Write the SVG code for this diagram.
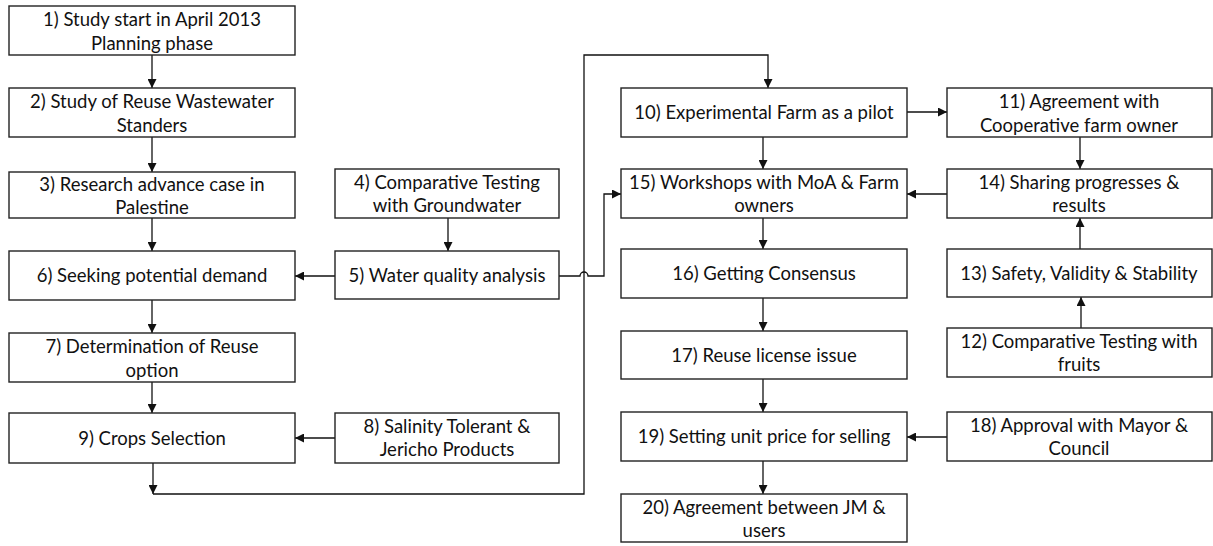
<svg xmlns="http://www.w3.org/2000/svg" width="1213" height="546" viewBox="0 0 1213 546">
<defs>
<style>
.box{fill:#fff;stroke:#222;stroke-width:1.4}
.lbl{font-family:Lato,"Liberation Sans",sans-serif;font-size:18.5px;fill:#111;text-anchor:middle}
.c{fill:none;stroke:#111;stroke-width:1.3}
</style>
<marker id="ah" viewBox="0 0 10 10" refX="10" refY="5" markerWidth="9" markerHeight="9" markerUnits="userSpaceOnUse" orient="auto">
<path d="M0,0 L10,5 L0,10 z" fill="#111"/>
</marker>
</defs>
<rect width="1213" height="546" fill="#fff"/>
<g id="connectors">
<path class="c" d="M152,55 V88" marker-end="url(#ah)"/>
<path class="c" d="M152,137 V172" marker-end="url(#ah)"/>
<path class="c" d="M152,218 V251" marker-end="url(#ah)"/>
<path class="c" d="M152,300 V333" marker-end="url(#ah)"/>
<path class="c" d="M152,382 V413" marker-end="url(#ah)"/>
<path class="c" d="M153,463 V494" marker-end="url(#ah)"/>
<path class="c" d="M153,494 H584 V55 H768 V88" marker-end="url(#ah)"/>
<path class="c" d="M448,218 V251" marker-end="url(#ah)"/>
<path class="c" d="M335,276 H295" marker-end="url(#ah)"/>
<path class="c" d="M335,438 H295" marker-end="url(#ah)"/>
<path class="c" d="M559,276 H580 A4,4 0 0 1 588,276 H604 V194 H621" marker-end="url(#ah)"/>
<path class="c" d="M763,137 V169" marker-end="url(#ah)"/>
<path class="c" d="M907,112 H947" marker-end="url(#ah)"/>
<path class="c" d="M1080,137 V169" marker-end="url(#ah)"/>
<path class="c" d="M947,194 H907" marker-end="url(#ah)"/>
<path class="c" d="M1080,249 V218" marker-end="url(#ah)"/>
<path class="c" d="M1081,328 V297" marker-end="url(#ah)"/>
<path class="c" d="M763,218 V249" marker-end="url(#ah)"/>
<path class="c" d="M763,298 V331" marker-end="url(#ah)"/>
<path class="c" d="M763,379 V412" marker-end="url(#ah)"/>
<path class="c" d="M763,461 V494" marker-end="url(#ah)"/>
<path class="c" d="M947,437 H907" marker-end="url(#ah)"/>
</g>
<g id="n1"><rect class="box" x="9" y="6" width="286" height="49"/><text class="lbl" x="152" y="26">1) Study start in April 2013</text><text class="lbl" x="152" y="50">Planning phase</text></g>
<g id="n2"><rect class="box" x="9" y="88" width="286" height="49"/><text class="lbl" x="152" y="108">2) Study of Reuse Wastewater</text><text class="lbl" x="152" y="132">Standers</text></g>
<g id="n3"><rect class="box" x="9" y="172" width="286" height="46"/><text class="lbl" x="152" y="191">3) Research advance case in</text><text class="lbl" x="152" y="214">Palestine</text></g>
<g id="n6"><rect class="box" x="9" y="251" width="286" height="49"/><text class="lbl" x="152" y="282">6) Seeking potential demand</text></g>
<g id="n7"><rect class="box" x="9" y="333" width="286" height="49"/><text class="lbl" x="152" y="353">7) Determination of Reuse</text><text class="lbl" x="152" y="377">option</text></g>
<g id="n9"><rect class="box" x="9" y="413" width="286" height="50"/><text class="lbl" x="152" y="445">9) Crops Selection</text></g>
<g id="n4"><rect class="box" x="335" y="169" width="224" height="49"/><text class="lbl" x="447" y="189">4) Comparative Testing</text><text class="lbl" x="447" y="212">with Groundwater</text></g>
<g id="n5"><rect class="box" x="335" y="251" width="224" height="48"/><text class="lbl" x="447" y="282">5) Water quality analysis</text></g>
<g id="n8"><rect class="box" x="335" y="413" width="224" height="50"/><text class="lbl" x="447" y="433">8) Salinity Tolerant &amp;</text><text class="lbl" x="447" y="456">Jericho Products</text></g>
<g id="n10"><rect class="box" x="621" y="88" width="286" height="49"/><text class="lbl" x="764" y="119">10) Experimental Farm as a pilot</text></g>
<g id="n15"><rect class="box" x="621" y="169" width="286" height="49"/><text class="lbl" x="764" y="189">15) Workshops with MoA &amp; Farm</text><text class="lbl" x="764" y="212">owners</text></g>
<g id="n16"><rect class="box" x="621" y="249" width="286" height="49"/><text class="lbl" x="764" y="280">16) Getting Consensus</text></g>
<g id="n17"><rect class="box" x="621" y="331" width="286" height="48"/><text class="lbl" x="764" y="362">17) Reuse license issue</text></g>
<g id="n19"><rect class="box" x="621" y="412" width="286" height="49"/><text class="lbl" x="764" y="443">19) Setting unit price for selling</text></g>
<g id="n20"><rect class="box" x="621" y="494" width="286" height="48"/><text class="lbl" x="764" y="514">20) Agreement between JM &amp;</text><text class="lbl" x="764" y="537">users</text></g>
<g id="n11"><rect class="box" x="947" y="88" width="265" height="49"/><text class="lbl" x="1079" y="108">11) Agreement with</text><text class="lbl" x="1079" y="132">Cooperative farm owner</text></g>
<g id="n14"><rect class="box" x="947" y="169" width="265" height="49"/><text class="lbl" x="1079" y="189">14) Sharing progresses &amp;</text><text class="lbl" x="1079" y="212">results</text></g>
<g id="n13"><rect class="box" x="947" y="249" width="265" height="48"/><text class="lbl" x="1079" y="280">13) Safety, Validity &amp; Stability</text></g>
<g id="n12"><rect class="box" x="947" y="328" width="265" height="49"/><text class="lbl" x="1079" y="348">12) Comparative Testing with</text><text class="lbl" x="1079" y="371">fruits</text></g>
<g id="n18"><rect class="box" x="947" y="412" width="265" height="49"/><text class="lbl" x="1079" y="432">18) Approval with Mayor &amp;</text><text class="lbl" x="1079" y="455">Council</text></g>
</svg>
